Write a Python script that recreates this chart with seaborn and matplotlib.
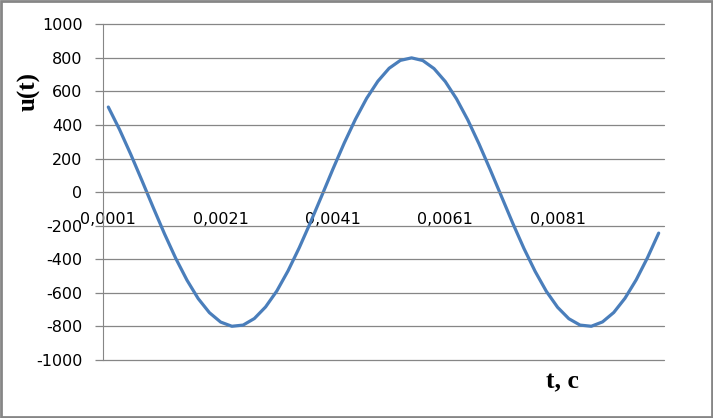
import numpy as np
import pandas as pd
import seaborn as sns
import matplotlib.pyplot as plt
from matplotlib.patches import Rectangle

# time points, s
t = [0.0001, 0.0003, 0.0005, 0.0007, 0.0009, 0.0011, 0.0013, 0.0015, 0.0017, 0.0019,
     0.0021, 0.0023, 0.0025, 0.0027, 0.0029, 0.0031, 0.0033, 0.0035, 0.0037, 0.0039,
     0.0041, 0.0043, 0.0045, 0.0047, 0.0049, 0.0051, 0.0053, 0.0055, 0.0057, 0.0059,
     0.0061, 0.0063, 0.0065, 0.0067, 0.0069, 0.0071, 0.0073, 0.0075, 0.0077, 0.0079,
     0.0081, 0.0083, 0.0085, 0.0087, 0.0089, 0.0091, 0.0093, 0.0095, 0.0097, 0.0099]

# voltage
u = [507, 373, 225, 68, -92, -248, -394, -524, -634, -718,
     -774, -799, -792, -753, -684, -589, -469, -331, -180, -22,
     138, 292, 434, 559, 661, 738, 785, 800, 784, 736,
     659, 556, 431, 288, 134, -25, -184, -335, -472, -591,
     -686, -754, -792, -799, -773, -717, -632, -522, -391, -244]

x_labels = ["0,0001", "0,0021", "0,0041", "0,0061", "0,0081"]
x_label_pos = [0.0001, 0.0021, 0.0041, 0.0061, 0.0081]
y_ticks = [-1000, -800, -600, -400, -200, 0, 200, 400, 600, 800, 1000]

df = pd.DataFrame({"t": t, "u": u})

sns.set_style("white")
plt.rcParams['font.family'] = ['DejaVu Sans']

grey = "#868686"
fig = plt.figure(figsize=(7.13, 4.18), dpi=100)
ax = fig.add_axes([102.7 / 713, 1 - 360 / 418, 561.6 / 713, 335.7 / 418])

sns.lineplot(data=df, x="t", y="u", ax=ax, color="#4A7EBB", linewidth=2.3)

ax.set_xlim(0, 0.01)
ax.set_ylim(-1000, 1000)
ax.set_yticks(y_ticks)
ax.set_yticklabels([str(v) for v in y_ticks])
ax.yaxis.grid(True, color=grey, linewidth=0.9)
ax.set_axisbelow(True)
for gl in ax.get_ygridlines():
    gl.set_clip_on(False)

for s in ["top", "right"]:
    ax.spines[s].set_visible(False)
ax.spines["left"].set_color(grey)
ax.spines["bottom"].set_color(grey)
ax.spines["bottom"].set_position(("data", 0))

ax.set_xticks(np.linspace(0, 0.01, 11))
ax.set_xticklabels([])
ax.set_xticks(x_label_pos, minor=True)
ax.set_xticklabels(x_labels, minor=True)
ax.tick_params(axis="x", which="major", direction="out", length=5.5, color=grey, width=0.9)
ax.tick_params(axis="x", which="minor", length=0, pad=14.5, labelsize=11.5, labelcolor="black")
ax.tick_params(axis="y", direction="out", length=5.5, color=grey, width=0.9,
               pad=9, labelsize=11.5, left=True, labelcolor="black")

ax.set_xlabel("t, c", fontsize=18.5, fontweight="bold", family="Liberation Serif", color="black")
ax.xaxis.set_label_coords((562 - 102.7) / 561.6, (360 - 381.7) / 335.7)
ax.xaxis.label.set_va("center")
ax.set_ylabel("u(t)", fontsize=18, fontweight="bold", family="Liberation Serif", color="black")
ax.yaxis.set_label_coords((29 - 102.7) / 561.6, (360 - 91) / 335.7)
ax.yaxis.label.set_va("center")

# chart border
fig.patches.append(Rectangle((0.002, 0.003), 0.996, 0.994, transform=fig.transFigure,
                             fill=False, edgecolor=grey, linewidth=2.0))

fig.savefig("out.png", dpi=100)
